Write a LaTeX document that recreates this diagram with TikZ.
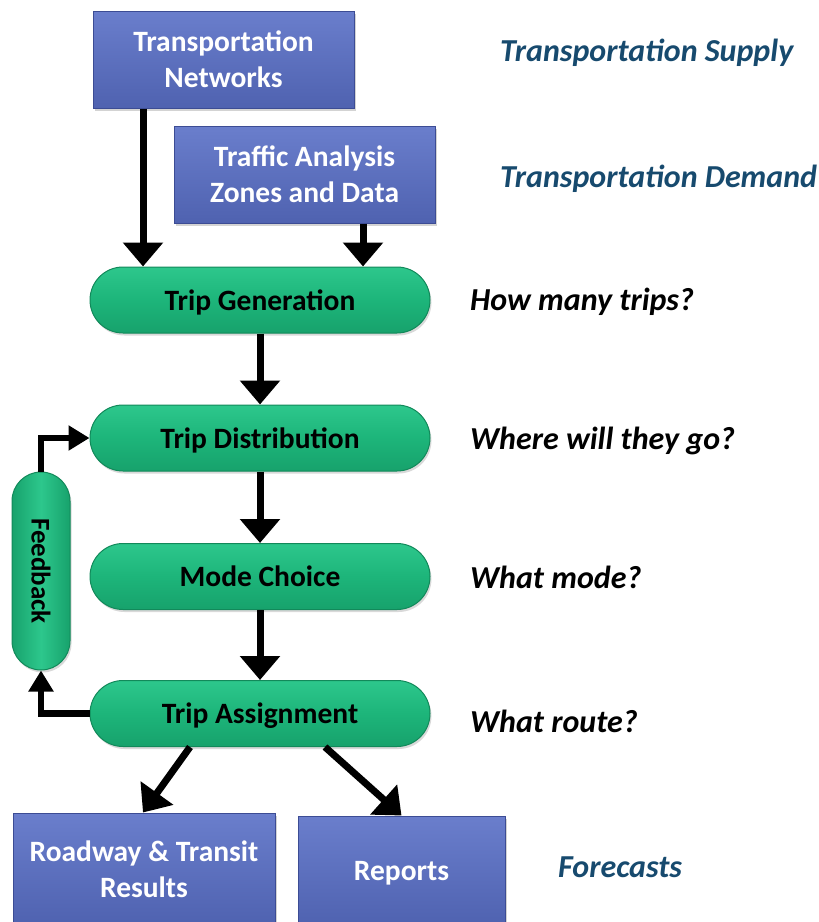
\documentclass[tikz,border=0pt]{standalone}
\usepackage{fontspec}
\setmainfont{Carlito}
\usetikzlibrary{arrows.meta,shadows,calc}
\definecolor{boxblue}{HTML}{5D72C2}
\definecolor{boxblueTop}{HTML}{6A7ECC}
\definecolor{boxblueBot}{HTML}{4F62B0}
\definecolor{boxblueEdge}{HTML}{3C4C94}
\definecolor{pillgreen}{HTML}{1DB57A}
\definecolor{pillgreenTop}{HTML}{2DC78C}
\definecolor{pillgreenBot}{HTML}{17A26C}
\definecolor{pillgreenEdge}{HTML}{12895A}
\definecolor{teallabel}{HTML}{174A6E}
\tikzset{
  bluebox/.style={draw=boxblueEdge, line width=1pt, top color=boxblueTop, bottom color=boxblueBot,
    text=white, font=\bfseries\fontsize{29.5}{36}\selectfont, align=center, inner sep=0pt, text depth=0pt,
    drop shadow={opacity=0.35, shadow xshift=2pt, shadow yshift=-3pt}},
  pill/.style={draw=pillgreenEdge, line width=1pt, top color=pillgreenTop, bottom color=pillgreenBot,
    middle color=pillgreen, rounded corners=33pt, text=black, text depth=0pt,
    font=\bfseries\fontsize{29.5}{36}\selectfont, minimum width=340pt, minimum height=66pt, inner sep=0pt,
    drop shadow={opacity=0.3, shadow xshift=1.5pt, shadow yshift=-2.5pt}},
  sidetext/.style={anchor=west, font=\bfseries\itshape\fontsize{32}{38}\selectfont, inner sep=0pt},
  bigarrow/.style={line width=7pt, -{Triangle[width=39pt,length=24pt]}},
  fbarrow/.style={line width=6.5pt, -{Triangle[width=24pt,length=21pt]}}
}
\begin{document}
\begin{tikzpicture}[x=1pt,y=-1pt]
  \useasboundingbox (0,0) rectangle (819,922);

  % input boxes
  \node[bluebox, minimum width=261pt, minimum height=97pt] (tn) at (223.5,59.5) {Transportation\\Networks};
  \node[bluebox, minimum width=261pt, minimum height=97pt] (taz) at (304.5,174.5) {Traffic Analysis\\Zones and Data};

  % model steps
  \node[pill] (tg) at (260,300) {Trip Generation};
  \node[pill] (td) at (260,438) {Trip Distribution};
  \node[pill] (mc) at (260,576.5) {Mode Choice};
  \node[pill] (ta) at (260,713.5) {Trip Assignment};

  % feedback loop
  \node[draw=pillgreenEdge, line width=1pt, left color=pillgreenBot, right color=pillgreenBot,
    middle color=pillgreenTop, rounded corners=29pt, minimum width=58pt, minimum height=198pt,
    inner sep=0pt, drop shadow={opacity=0.3, shadow xshift=1.5pt, shadow yshift=-2.5pt}]
    (fb) at (41,571) {};
  \node[rotate=-90, font=\bfseries\fontsize{27}{32}\selectfont] (fbt) at (fb.center) {Feedback};

  % outputs
  \node[bluebox, minimum width=262pt, minimum height=112pt] (rt) at (144,869) {Roadway \& Transit\\Results};
  \node[bluebox, minimum width=207pt, minimum height=110pt] (rp) at (401.5,871) {Reports};

  % annotations
  \node[sidetext, text=teallabel] (ls) at (500,53) {Transportation Supply};
  \node[sidetext, text=teallabel] (ld) at (500,179) {Transportation Demand};
  \node[sidetext] (q1) at (470,302) {How many trips?};
  \node[sidetext] (q2) at (470,441) {Where will they go?};
  \node[sidetext] (q3) at (470,577) {What mode?};
  \node[sidetext] (q4) at (470,721) {What route?};
  \node[sidetext, text=teallabel] (lf) at (558,867) {Forecasts};

  % flow arrows
  \draw[bigarrow] ([xshift=-80.5pt]tn.south) -- ([xshift=-80.5pt]tn.south |- tg.north);
  \draw[bigarrow] ([xshift=58.5pt]taz.south) -- ([xshift=58.5pt]taz.south |- tg.north);
  \draw[bigarrow] (tg.south) -- (td.north);
  \draw[bigarrow] (td.south) -- (mc.north);
  \draw[bigarrow] (mc.south) -- (ta.north);
  \draw[bigarrow] ([xshift=-70pt]ta.south) -- ([xshift=-1pt]rt.north);
  \draw[bigarrow] ([xshift=65pt]ta.south) -- ([xshift=0pt]rp.north);

  % feedback arrows
  \draw[fbarrow] (ta.west) -| (fb.south);
  \draw[fbarrow] (fb.north) |- (td.west);
\end{tikzpicture}
\end{document}
